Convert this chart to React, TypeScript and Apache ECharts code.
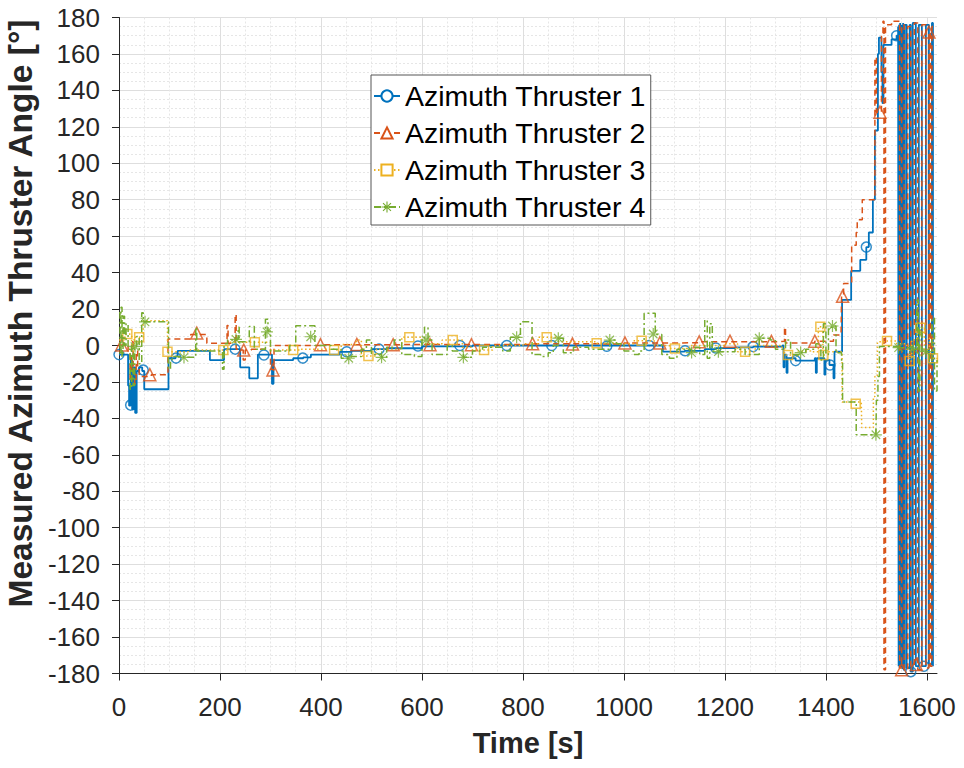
import React, { useEffect, useRef } from "react";
import * as echarts from "echarts";

const seriesNames = ["Azimuth Thruster 1", "Azimuth Thruster 2", "Azimuth Thruster 3", "Azimuth Thruster 4"];
const xTicks = [0, 200, 400, 600, 800, 1000, 1200, 1400, 1600];
const yTicks = [-180, -160, -140, -120, -100, -80, -60, -40, -20, 0, 20, 40, 60, 80, 100, 120, 140, 160, 180];

const thruster1 = [
  [0, -5], [15, -5], [18, -22], [20, -33], [23, -8], [26, -35], [29, -12], [32, -37], [35, -14], [40, -12], [46, -14], [50, -24],
  [96, -24], [98, -7], [112, -6], [116, -3], [176, -3], [180, -8], [206, -8], [208, -2], [238, -2], [240, -12], [256, -12],
  [258, -18], [272, -18], [275, -5], [300, -5], [303, -21], [306, -8], [330, -8], [345, -7], [365, -6.5], [380, -5], [420, -5],
  [437, -3.5], [460, -3], [500, -2], [530, -1.5], [600, -0.5], [700, 0], [860, 0], [1000, 0], [1050, 0], [1077, -3.4],
  [1120, -3], [1160, -2], [1182, -1.4], [1220, -1], [1256, -0.6], [1314, 0], [1316, -12], [1318, -5], [1322, -15], [1324, -7],
  [1340, -8.3], [1378, -7], [1380, -15], [1382, -7], [1395, -7], [1397, -16], [1399, -8], [1407, -10.7], [1415, -18],
  [1417, -3.4], [1430, -3.4], [1432, 25], [1448, 25], [1450, 41], [1466, 41], [1468, 47], [1480, 54], [1485, 62], [1490, 62],
  [1493, 80], [1497, 118], [1500, 118], [1503, 160], [1505, 169], [1510, 150], [1512, 133], [1514, 165], [1530, 168],
  [1540, 170], [1543, 175], [1544, -176], [1545, 176], [1546, -177], [1547, 177], [1548, -176], [1550, 176], [1551, -177],
  [1553, 177], [1554, -178], [1556, 176], [1560, -177], [1566, 176], [1568, -179], [1572, 177], [1578, -176], [1584, 176],
  [1590, -176], [1594, -176], [1598, 176], [1604, -175], [1610, 177], [1612, -176]
];
const thruster1Markers = [
  [0, -5], [23, -32.7], [48, -13.5], [113, -6.9], [230, -2], [287, -5.2], [364, -6.9], [451, -3.4], [515, -2], [592, -0.3],
  [675, 0], [768, 0], [857, 0], [966, -0.4], [1050, 0], [1121, -2.9], [1182, -1.4], [1256, -0.6], [1340, -8.3],
  [1408, -10.7], [1480, 54], [1540, 170], [1568, -179], [1594, -176]
];

const thruster2 = [
  [0, 0.3], [10, 0.3], [18, -5], [22, -20], [25, 2], [28, -15], [31, -21], [34, -3], [37, -12], [40, -17], [62, -17],
  [64, -16], [95, -16], [97, 3.5], [140, 3.5], [142, 6], [170, 6], [174, 1.2], [212, 1.2], [214, 11], [216, 1.2], [228, 1.2],
  [230, 17], [232, -2], [240, -2.5], [246, -8], [250, -2.5], [262, -2], [280, -2], [300, -13], [305, -13.4], [307, 0],
  [400, 0.4], [470, 0.6], [700, 0.5], [820, 1], [900, 0.8], [1000, 1.4], [1100, 1.5], [1150, 2], [1300, 2.3], [1318, 10],
  [1320, 1.4], [1340, 1.4], [1378, 2.4], [1415, 5.8], [1430, 5.8], [1431, 27], [1435, 34], [1449, 34], [1451, 55],
  [1460, 62], [1462, 69], [1470, 69], [1472, 80], [1493, 80], [1497, 158], [1500, 128], [1507, 128], [1510, 170],
  [1513, 178], [1515, -178], [1518, 176], [1530, 178], [1546, -177], [1550, 176], [1555, -178], [1562, 175],
  [1568, -176], [1575, 177], [1582, -178], [1590, 176], [1598, -177], [1604, 172], [1607, -176], [1610, 175], [1612, 175]
];
const thruster2Markers = [
  [5, 0.3], [61, -16], [154, 6.8], [247, -2.5], [305, -13.4], [399, 0.4], [471, 0.6], [543, 0.4], [616, 0.4], [698, 0.4],
  [819, 1], [898, 0.8], [1002, 1.4], [1071, 1.4], [1149, 2], [1210, 2.4], [1292, 2.3], [1378, 2.4], [1433, 27],
  [1507, 128], [1550, -178], [1579, -175], [1604, 172]
];

const thruster3 = [
  [0, 3], [12, 6.3], [20, 6], [25, -3], [30, 4.5], [45, 4.5], [48, 13.6], [94, 13.6], [96, -3.4], [135, -3.4], [137, -2.5],
  [215, -2.5], [218, 1.8], [290, 1.8], [300, -2.5], [345, -2.5], [360, -2], [426, -2.5], [440, 0.5], [470, 3], [480, -5.8],
  [494, -5.8], [510, -2], [560, 4.5], [580, 4.5], [600, 1], [640, 3], [661, 3], [680, -1], [700, -2.5], [723, -2.5],
  [740, 0], [800, 1], [830, 4.5], [847, 4.5], [870, 2], [946, 1.2], [980, 1], [1020, 2.6], [1040, 2.6], [1060, 0],
  [1090, -1.6], [1110, -1.6], [1130, 0], [1200, 1], [1225, -3.4], [1245, -3.4], [1260, 0], [1310, -1], [1318, -5.2],
  [1330, -5.2], [1345, -3], [1370, -3.4], [1385, 10.3], [1392, 9.4], [1394, -5.2], [1400, -3.4], [1430, -3.4],
  [1432, -31], [1470, -31], [1471, -45], [1492, -45], [1494, -28], [1497, -17], [1502, 2], [1521, 2.5], [1540, 1],
  [1560, -2], [1566, -8.5], [1570, 3], [1580, 6], [1587, 9.8], [1595, -2], [1605, 4], [1612, -7], [1620, -10]
];
const thruster3Markers = [
  [16.5, 6.3], [40, 4.5], [96, -3.4], [206.6, -2.5], [269, 1.8], [345, -2.5], [426, -2.5], [494, -5.8], [575, 4.5],
  [661, 3], [723, -2.5], [847, 4.5], [946, 1.2], [1035, 2.6], [1101, -1.6], [1240, -3.4], [1325, -5.2], [1389, 10.3],
  [1395, -5.2], [1459, -32], [1521, 2.5], [1566, -8.5], [1587, 9.8], [1612, -7]
];

const thruster4 = [
  [0, 18], [2, -5], [4, 21], [6, -6], [8, 16], [11, 0], [14, 12], [18, -2], [22, -24], [25, 0], [28, -22], [31, -0.6],
  [35, 5], [40, -10], [45, 18], [48, 13], [96, 13], [98, -13], [102, -8], [105, -6], [128, -6.5], [150, -6], [152, 10],
  [154, -3], [200, -3], [205, -13], [208, 1], [215, 3], [232, 3.4], [236, 10], [238, 2], [255, 2], [258, 10.4], [265, 10.4],
  [268, -2], [285, -2], [290, 14.4], [295, 8], [300, -3], [320, -3], [338, 0], [350, 10.8], [385, 10.8], [388, 0],
  [420, -2], [440, -7], [455, -7], [460, -6], [480, -2], [490, 3], [500, -5], [520, -6.5], [530, -1], [545, 3], [560, -5],
  [585, -6], [600, 3], [605, 10], [612, 3], [620, -5], [640, -5], [650, 0], [660, -3], [682, -6.5], [700, -3], [720, -1],
  [760, -3], [775, 4.5], [787, 4.5], [795, 13], [815, 13], [818, -5], [835, -6], [850, -4], [860, 0], [870, 4], [880, -4],
  [900, -1], [930, -2], [972, 3], [985, 1], [1000, -3], [1020, -5], [1030, -3], [1040, 17.7], [1060, 17.7], [1062, 6],
  [1075, -5], [1090, -7], [1105, -2], [1134, -3.9], [1140, -1], [1150, -5], [1160, 14], [1165, -7], [1170, 12],
  [1175, -3], [1187, -3.4], [1220, -2], [1240, -5], [1268, 4], [1290, 3], [1300, -2], [1320, 3], [1330, -5],
  [1350, -3.9], [1360, -2], [1380, 1], [1390, -8], [1395, 12], [1400, -5], [1405, 10], [1413, 10.7], [1420, -4],
  [1431, -9], [1433, -31], [1458, -31], [1460, -49], [1499, -49], [1500, -30], [1503, -17], [1506, -0.6], [1544, -1.2],
  [1560, -1], [1573, -2], [1580, 25], [1583, -25], [1586, 10], [1590, -3], [1598, -3.4], [1605, -10], [1610, 15],
  [1615, -25], [1620, -8]
];
const thruster4Markers = [
  [31.7, -0.6], [51.5, 13], [128.7, -6.5], [231.7, 3.4], [293, 7.5], [379.6, 4.8], [455, -7], [520, -6.5], [608, 3],
  [682, -6.5], [787.5, 4.5], [870, 4], [972, 3], [1058, 6.3], [1134, -3.9], [1187, -3.4], [1268, 4], [1350, -3.9],
  [1413, 10.7], [1499, -49], [1544, -1.2], [1573, -2], [1598, -3.4]
];

const colors = ["#0072BD", "#D95319", "#EDB120", "#77AC30"];
const asterisk =
  "path://M-0.1,-1L0.1,-1L0.1,1L-0.1,1Z M-1,-0.1L1,-0.1L1,0.1L-1,0.1Z " +
  "M-0.636,-0.778L0.778,0.636L0.636,0.778L-0.778,-0.636Z M0.636,-0.778L0.778,-0.636L-0.636,0.778L-0.778,0.636Z";

export default function App() {
  const ref = useRef<HTMLDivElement>(null);
  useEffect(() => {
    if (!ref.current) return;
    const chart = echarts.init(ref.current, null, { renderer: "svg" });
    const lines = [thruster1, thruster2, thruster3, thruster4];
    const markers = [thruster1Markers, thruster2Markers, thruster3Markers, thruster4Markers];
    const lineTypes: any[] = ["solid", [6, 4], [1.5, 2.5], [7, 3, 2, 3]];
    const lineWidths = [1.8, 1.5, 1.5, 1.5];
    const legendSymbols = ["emptyCircle", "emptyTriangle", "emptyRect", asterisk];
    const markerSymbols = ["circle", "triangle", "rect", asterisk];
    const markerSizes = [10, 12, 9, 12];
    const series: any[] = [];
    lines.forEach((d, i) => {
      series.push({
        name: seriesNames[i],
        type: "line",
        data: d,
        step: "end",
        showSymbol: false,
        symbol: legendSymbols[i],
        symbolSize: markerSizes[i],
        silent: true,
        z: 2 + i,
        lineStyle: { color: colors[i], width: lineWidths[i], type: lineTypes[i] },
        itemStyle: { color: colors[i] },
      });
    });
    markers.forEach((d, i) => {
      series.push({
        name: seriesNames[i],
        type: "scatter",
        data: d,
        symbol: markerSymbols[i],
        symbolSize: markerSizes[i],
        silent: true,
        z: 2 + i,
        itemStyle:
          i === 3
            ? { color: colors[i] }
            : { color: "transparent", borderColor: colors[i], borderWidth: 1.5 },
      });
    });
    const axisColor = "#262626";
    const fmt = (v: number) => String(v);
    chart.setOption({
      animation: false,
      textStyle: { fontFamily: "Liberation Sans" },
      grid: { left: 119, top: 17.5, right: 27, bottom: 94.5, containLabel: false, outerBoundsMode: "none" },
      legend: {
        data: seriesNames,
        orient: "vertical",
        left: 371,
        top: 75,
        selectedMode: false,
        backgroundColor: "#ffffff",
        borderColor: "#555555",
        borderWidth: 1,
        borderRadius: 0,
        padding: [6, 5, 3, 2],
        itemWidth: 26,
        itemHeight: 14,
        itemGap: 7,
        textStyle: { fontSize: 28.5, color: "#000000", lineHeight: 30, fontFamily: "Liberation Sans" },
      },
      xAxis: {
        type: "value",
        min: 0,
        max: 1620,
        interval: 200,
        name: "Time [s]",
        nameLocation: "middle",
        nameGap: 55,
        nameTextStyle: { fontSize: 29, fontWeight: "bold", color: axisColor, fontFamily: "Liberation Sans" },
        axisLine: { show: true, onZero: false, lineStyle: { color: axisColor, width: 1 } },
        axisTick: { show: true, inside: false, length: 7, customValues: xTicks, lineStyle: { color: axisColor } },
        axisLabel: {
          customValues: xTicks,
          formatter: fmt,
          margin: 20,
          fontSize: 26,
          color: axisColor,
          fontFamily: "Liberation Sans",
        },
        splitLine: {
          show: true,
          lineStyle: {
            color: ["#dedede", "#dedede", "#dedede", "#dedede", "#dedede", "#dedede", "#dedede", "#dedede", "#dedede", "rgba(0,0,0,0)"],
            width: 1,
          },
        },
        minorTick: { show: false, splitNumber: 4 },
        minorSplitLine: { show: true, lineStyle: { color: "#e6e6e6", width: 1, type: [2, 2] } },
      },
      yAxis: {
        type: "value",
        min: -180,
        max: 180,
        interval: 20,
        name: "Measured Azimuth Thruster Angle [°]",
        nameLocation: "middle",
        nameGap: 74,
        nameTextStyle: {
          fontSize: 33.5,
          fontWeight: "bold",
          color: axisColor,
          fontFamily: "Liberation Sans",
          padding: [0, 0, 0, 64],
        },
        axisLine: { show: true, onZero: false, lineStyle: { color: axisColor, width: 1 } },
        axisTick: { show: true, inside: false, length: 7, customValues: yTicks, lineStyle: { color: axisColor } },
        axisLabel: { customValues: yTicks, formatter: fmt, margin: 19, fontSize: 26, color: axisColor, fontFamily: "Liberation Sans" },
        splitLine: { show: true, lineStyle: { color: "#dedede", width: 1 } },
        minorTick: { show: false, splitNumber: 4 },
        minorSplitLine: { show: true, lineStyle: { color: "#e6e6e6", width: 1, type: [2, 2] } },
      },
      series,
    });
    return () => chart.dispose();
  }, []);
  return (
    <div
      ref={ref}
      style={{ position: "fixed", left: 0, top: 0, width: 964, height: 768, background: "#ffffff" }}
    />
  );
}
